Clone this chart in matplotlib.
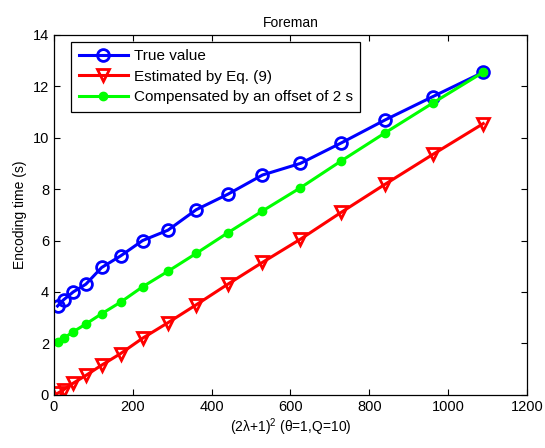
import matplotlib
matplotlib.use("Agg")
import matplotlib.pyplot as plt

plt.rcParams['font.family'] = ['Liberation Sans', 'DejaVu Sans']
plt.rcParams['mathtext.fontset'] = 'custom'
plt.rcParams['mathtext.rm'] = 'Liberation Sans'

x_vals = [9, 25, 49, 81, 121, 169, 225, 289, 361, 441, 529, 625, 729, 841, 961, 1089]
true_value = [3.45, 3.7, 4.0, 4.3, 4.95, 5.4, 6.0, 6.4, 7.2, 7.8, 8.55, 9.0, 9.8, 10.7, 11.6, 12.55]
estimated = [0.05, 0.2, 0.45, 0.75, 1.15, 1.6, 2.2, 2.8, 3.5, 4.3, 5.15, 6.05, 7.1, 8.2, 9.35, 10.55]
compensated = [2.05, 2.2, 2.45, 2.75, 3.15, 3.6, 4.2, 4.8, 5.5, 6.3, 7.15, 8.05, 9.1, 10.2, 11.35, 12.55]

labels = ["True value", "Estimated by Eq. (9)", "Compensated by an offset of 2 s"]
xticks = [0, 200, 400, 600, 800, 1000, 1200]
yticks = [0, 2, 4, 6, 8, 10, 12, 14]

fig = plt.figure(figsize=(5.45, 4.48), dpi=100)
ax = fig.add_axes([0.099, 0.119, 0.868, 0.803])

ax.plot(x_vals, true_value, color='#0000ff', lw=2.2, marker='o', ms=8.5,
        mfc='none', mec='#0000ff', mew=2, label=labels[0])
ax.plot(x_vals, estimated, color='#ff0000', lw=2.2, marker='v', ms=9,
        mfc='none', mec='#ff0000', mew=2, label=labels[1])
ax.plot(x_vals, compensated, color='#00ff00', lw=2.2, marker='o', ms=6,
        mfc='#00ff00', mec='#00ff00', label=labels[2])

ax.set_xlim(0, 1200)
ax.set_ylim(0, 14)
ax.set_xticks(xticks)
ax.set_yticks(yticks)
ax.tick_params(direction='in', top=True, right=True, labelsize=10.5, length=4, width=0.8)
for s in ax.spines.values():
    s.set_linewidth(0.9)

ax.set_title("Foreman", fontsize=10)
ax.set_xlabel("(2λ+1)$^2$ (θ=1,Q=10)", fontsize=10, labelpad=2)
ax.set_ylabel("Encoding time (s)", fontsize=10)

leg = ax.legend(loc='upper left', fontsize=11, fancybox=False, framealpha=1,
                edgecolor='black', handlelength=3.2, borderpad=0.5,
                labelspacing=0.42, handletextpad=0.4, borderaxespad=0,
                bbox_to_anchor=(0.036, 0.981))
leg.get_frame().set_linewidth(0.9)

fig.savefig("out.png", dpi=100)
